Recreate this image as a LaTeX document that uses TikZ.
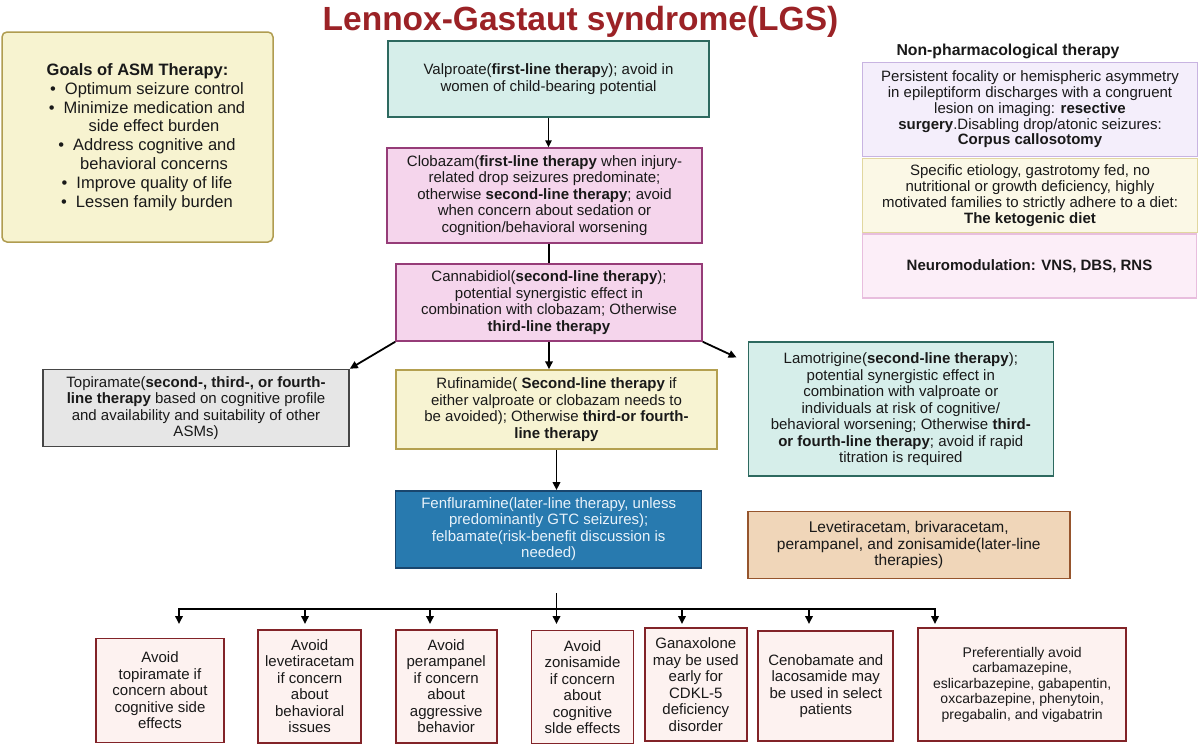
\documentclass[tikz,border=0pt]{standalone}
\usepackage{fontspec}
\setmainfont{Liberation Sans}
\usetikzlibrary{arrows.meta,calc}
\newcommand\myfs[2]{\fontsize{#1}{#2}\selectfont}
\definecolor{ttl}{RGB}{155,34,38}
\definecolor{goalfill}{RGB}{247,243,208}
\definecolor{goaldraw}{RGB}{176,156,80}
\definecolor{tealfill}{RGB}{214,238,234}
\definecolor{tealdraw}{RGB}{45,105,95}
\definecolor{pinkfill}{RGB}{245,213,236}
\definecolor{pinkdraw}{RGB}{150,60,120}
\definecolor{yelfill}{RGB}{247,243,210}
\definecolor{yeldraw}{RGB}{180,160,80}
\definecolor{grayfill}{RGB}{230,230,230}
\definecolor{graydraw}{RGB}{70,70,70}
\definecolor{bluefill}{RGB}{40,122,175}
\definecolor{bluedraw}{RGB}{25,70,110}
\definecolor{bluetext}{RGB}{232,242,250}
\definecolor{tanfill}{RGB}{240,214,185}
\definecolor{tandraw}{RGB}{150,85,45}
\definecolor{botfill}{RGB}{253,242,240}
\definecolor{botdraw}{RGB}{130,35,40}
\definecolor{npafill}{RGB}{244,238,251}
\definecolor{npadraw}{RGB}{200,180,225}
\definecolor{npbfill}{RGB}{251,248,230}
\definecolor{npbdraw}{RGB}{225,215,160}
\definecolor{npcfill}{RGB}{252,238,248}
\definecolor{npcdraw}{RGB}{232,190,222}
\definecolor{txt}{RGB}{25,25,25}
\tikzset{
  box/.style={draw, rectangle, inner sep=0pt, align=center, line width=1.5pt,
    text=txt, font=\myfs{15}{16.5}},
  botbox/.style={box, fill=botfill, draw=botdraw, line width=1.8pt},
  ln/.style={line width=1.8pt, draw=black},
  arr/.style={ln, -{Triangle[length=8pt,width=7.5pt]}},
}
\begin{document}
\begin{tikzpicture}[x=1pt,y=-1pt]
\fill[white] (0,0) rectangle (1200,745);
\useasboundingbox (0,0) rectangle (1200,745);

% title
\node[anchor=base, text=ttl, font=\myfs{33.5}{36}\bfseries, inner sep=0pt] (title) at (580.5,30) {Lennox-Gastaut syndrome(LGS)};

% goals
\node[box, fill=goalfill, draw=goaldraw, rounded corners=5pt, minimum width=271pt, minimum height=210pt,
  font=\myfs{16.5}{18.8}] (goals) at (137.5,137)
{\textbf{Goals of ASM Therapy:}\\
\hspace*{19pt}\textbullet\hspace{9pt}Optimum seizure control\\
\hspace*{19pt}\textbullet\hspace{9pt}Minimize medication and\\
\hspace*{33pt}side effect burden\\
\hspace*{19pt}\textbullet\hspace{9pt}Address cognitive and\\
\hspace*{33pt}behavioral concerns\\
\hspace*{19pt}\textbullet\hspace{9pt}Improve quality of life\\
\hspace*{19pt}\textbullet\hspace{9pt}Lessen family burden};

% central chain
\node[box, fill=tealfill, draw=tealdraw, minimum width=321pt, minimum height=76pt] (valp) at (548.5,79)
{Valproate(\textbf{first-line therap}y); avoid in\\women of child-bearing potential};

\node[box, fill=pinkfill, draw=pinkdraw, minimum width=315pt, minimum height=95pt] (clob) at (544.5,195.5)
{Clobazam(\textbf{first-line therapy} when injury-\\related drop seizures predominate;\\otherwise \textbf{second-line therapy}; avoid\\when concern about sedation or\\cognition/behavioral worsening};

\node[box, fill=pinkfill, draw=pinkdraw, minimum width=306pt, minimum height=77pt] (cann) at (549,302.5)
{Cannabidiol(\textbf{second-line therapy});\\potential synergistic effect in\\combination with clobazam; Otherwise\\\textbf{third-line therapy}};

\node[box, fill=yelfill, draw=yeldraw, minimum width=321pt, minimum height=79pt] (rufi) at (556.5,409.5)
{Rufinamide( \textbf{Second-line therapy} if\\either valproate or clobazam needs to\\be avoided); Otherwise \textbf{third-or fourth-}\\\textbf{line therapy}};

\node[box, fill=grayfill, draw=graydraw, minimum width=306pt, minimum height=77pt] (topi) at (196,408)
{Topiramate(\textbf{second-, third-, or fourth-}\\\textbf{line therapy} based on cognitive profile\\and availability and suitability of other\\ASMs)};

\node[box, fill=tealfill, draw=tealdraw, minimum width=305pt, minimum height=134pt] (lamo) at (900.8,409.2)
{Lamotrigine(\textbf{second-line therapy});\\potential synergistic effect in\\combination with valproate or\\individuals at risk of cognitive/\\behavioral worsening; Otherwise \textbf{third-}\\\textbf{or fourth-line therapy}; avoid if rapid\\titration is required};

\node[box, fill=tanfill, draw=tandraw, minimum width=322pt, minimum height=67pt, font=\myfs{15.5}{16.7}] (leve) at (908.8,545)
{Levetiracetam, brivaracetam,\\perampanel, and zonisamide(later-line\\therapies)};

\node[box, fill=bluefill, draw=bluedraw, text=bluetext, minimum width=306pt, minimum height=77pt] (fenf) at (548.7,529.3)
{Fenfluramine(later-line therapy, unless\\predominantly GTC seizures);\\felbamate(risk-benefit discussion is\\needed)};

% non-pharmacological
\node[anchor=base, inner sep=0pt, text=txt, font=\myfs{15.8}{18}\bfseries] (nphead) at (1008,55) {Non-pharmacological therapy};

\node[box, fill=npafill, draw=npadraw, minimum width=335pt, minimum height=94pt, font=\myfs{15}{15.8}] (npa) at (1030,109.5)
{Persistent focality or hemispheric asymmetry\\in epileptiform discharges with a congruent\\lesion on imaging: \textbf{resective}\\\textbf{surgery}.Disabling drop/atonic seizures:\\\textbf{Corpus callosotomy}};

\node[box, fill=npbfill, draw=npbdraw, minimum width=335pt, minimum height=74pt, font=\myfs{15}{15.8}] (npb) at (1030,195.5)
{Specific etiology, gastrotomy fed, no\\nutritional or growth deficiency, highly\\motivated families to strictly adhere to a diet:\\\textbf{The ketogenic diet}};

\node[box, fill=npcfill, draw=npcdraw, minimum width=334pt, minimum height=64pt] (npc) at (1029.5,266.2)
{\textbf{Neuromodulation: VNS, DBS, RNS}};

% bottom boxes
\node[botbox, minimum width=128pt, minimum height=104pt] (b1) at (160,690.5)
{Avoid\\topiramate if\\concern about\\cognitive side\\effects};
\node[botbox, minimum width=103pt, minimum height=113pt] (b2) at (309.7,686.3)
{Avoid\\levetiracetam\\if concern\\about\\behavioral\\issues};
\node[botbox, minimum width=101pt, minimum height=113pt] (b3) at (446.2,686.3)
{Avoid\\perampanel\\if concern\\about\\aggressive\\behavior};
\node[botbox, minimum width=102pt, minimum height=113pt] (b4) at (582.5,687)
{Avoid\\zonisamide\\if concern\\about\\cognitive\\slde effects};
\node[botbox, minimum width=102pt, minimum height=113pt] (b5) at (695.8,684.7)
{Ganaxolone\\may be used\\early for\\CDKL-5\\deficiency\\disorder};
\node[botbox, minimum width=135pt, minimum height=110pt] (b6) at (825.8,686)
{Cenobamate and\\lacosamide may\\be used in select\\patients};
\node[botbox, minimum width=208pt, minimum height=113pt, font=\myfs{14}{15.5}] (b7) at (1022.2,684.7)
{Preferentially avoid\\carbamazepine,\\eslicarbazepine, gabapentin,\\oxcarbazepine, phenytoin,\\pregabalin, and vigabatrin};

% connectors
\draw[arr, line width=1.5pt, -{Triangle[length=7pt,width=6.5pt]}] (valp.south) -- (valp.south |- clob.north);
\draw[ln, line width=1.5pt] (clob.south -| cann.north) -- (cann.north);
\draw[arr] (cann.south) -- (cann.south |- rufi.north);
\draw[arr] (cann.south west) -- (topi.north east);
\coordinate (lamoin) at ($(lamo.north west)+(-11,16)$);
\draw[arr] (cann.south east) -- (lamoin);
\draw[arr] (rufi.south) -- (rufi.south |- fenf.north);

% distribution bus
\coordinate (jtop) at (556.5,593);
\foreach \i/\xx in {1/179,2/305,3/430,4/556.5,5/682,6/809,7/935}{
  \coordinate (d\i) at (\xx,609);
  \coordinate (t\i) at (\xx,624);
}
\draw[ln, line cap=rect] (d1) -- (d7);
\draw[arr] (jtop) -- (t4);
\foreach \i in {1,2,3,5,6,7}{
  \draw[arr] (d\i) -- (t\i);
}
\end{tikzpicture}
\end{document}
